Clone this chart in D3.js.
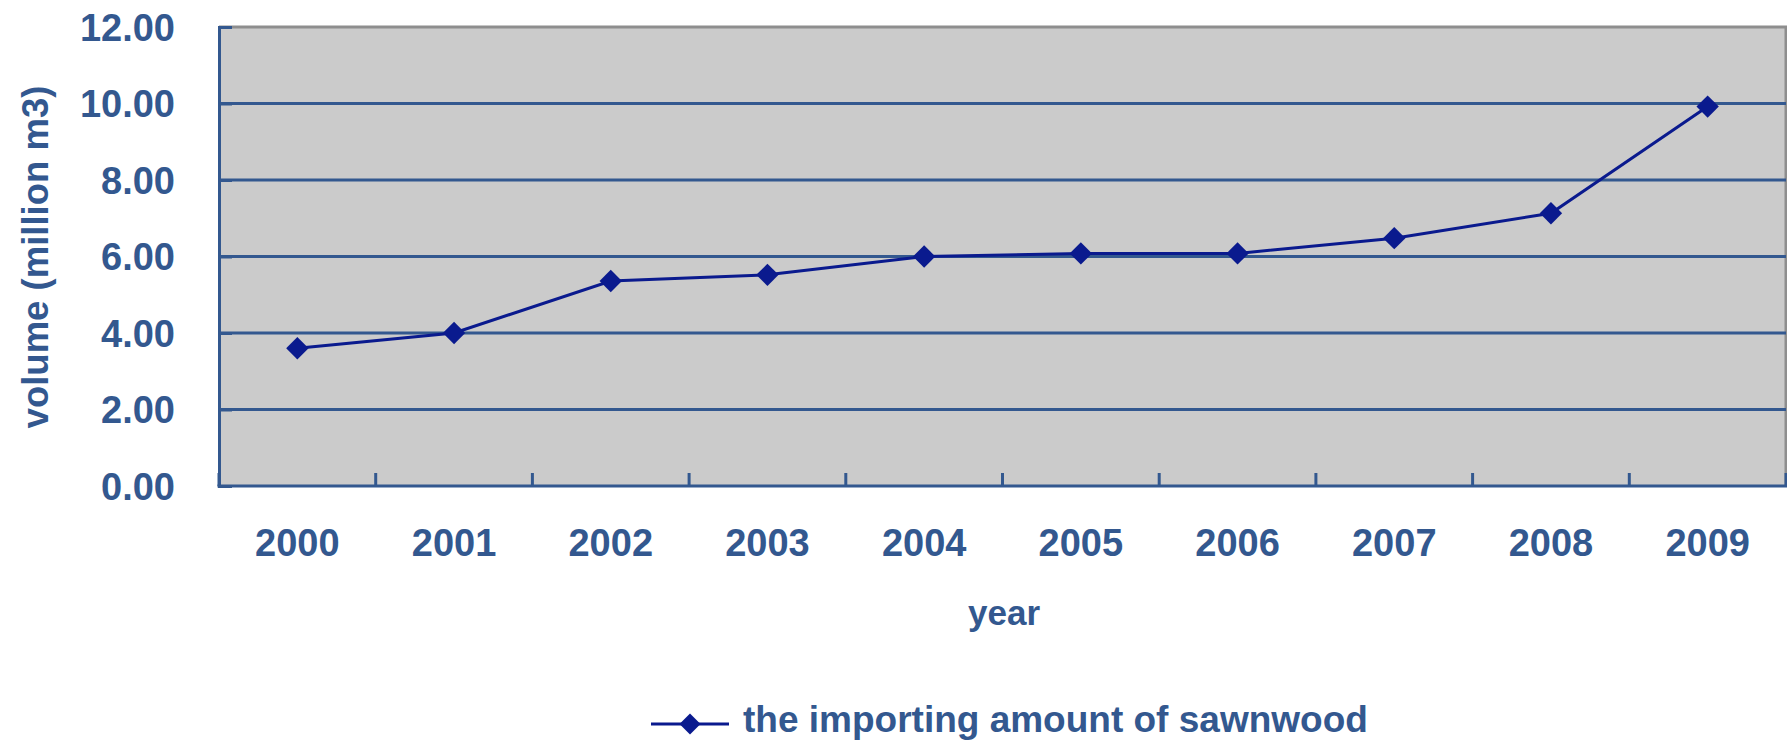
<!DOCTYPE html>
<html>
<head>
<meta charset="utf-8">
<script src="https://cdn.jsdelivr.net/npm/d3@7"></script>
<style>
  html, body { margin: 0; padding: 0; background: #ffffff; }
  svg { display: block; }
  text { font-family: "Liberation Sans", Arial, sans-serif; font-weight: bold; fill: #33588f; }
</style>
</head>
<body>
<svg id="chart" width="1787" height="743"></svg>
<script>
// Annual sawnwood import volume, million m3
const years = ["2000", "2001", "2002", "2003", "2004", "2005", "2006", "2007", "2008", "2009"];
const volumes = [3.60, 4.00, 5.36, 5.52, 6.00, 6.08, 6.08, 6.48, 7.13, 9.92];
const yTicks = [0, 2, 4, 6, 8, 10, 12];
const seriesName = "the importing amount of sawnwood";
const xTitle = "year";
const yTitle = "volume (million m3)";

const svg = d3.select("#chart");
const plot = { left: 219, right: 1786, top: 27, bottom: 486 };
const axisBlue = "#33588f";
const lineBlue = "#0a1a8e";
const fontStack = "'Liberation Sans', Arial, sans-serif";

const x = d3.scaleBand().domain(years).range([plot.left, plot.right]).padding(0);
const y = d3.scaleLinear().domain([0, 12]).range([plot.bottom, plot.top]);

// plot area background
svg.append("rect")
  .attr("x", plot.left).attr("y", plot.top)
  .attr("width", plot.right - plot.left).attr("height", plot.bottom - plot.top)
  .attr("fill", "#cbcbcb");

// top and right frame
svg.append("path")
  .attr("d", `M${plot.left},${plot.top}H${plot.right}V${plot.bottom}`)
  .attr("fill", "none").attr("stroke", "#8e8e8e").attr("stroke-width", 3);

// horizontal gridlines
svg.append("g").selectAll("line")
  .data(yTicks.filter(d => d > 0 && d < 12))
  .join("line")
  .attr("x1", plot.left).attr("x2", plot.right)
  .attr("y1", d => y(d)).attr("y2", d => y(d))
  .attr("stroke", axisBlue).attr("stroke-width", 3);

// y axis with inward ticks
const yAxis = svg.append("g")
  .attr("transform", `translate(${plot.left},0)`)
  .call(d3.axisLeft(y).tickValues(yTicks).tickSize(-13).tickPadding(44).tickFormat(d3.format(".2f")));
yAxis.select(".domain").attr("stroke", axisBlue).attr("stroke-width", 3);
yAxis.selectAll(".tick line").attr("stroke", axisBlue).attr("stroke-width", 3);
yAxis.selectAll(".tick text")
  .attr("fill", axisBlue).attr("font-size", 38).attr("dy", "0.35em")
  .style("font-family", fontStack).style("font-weight", "bold");

// x axis: labels at category centres, ticks on category boundaries
const xAxis = svg.append("g")
  .attr("transform", `translate(0,${plot.bottom})`)
  .call(d3.axisBottom(x).tickSize(0).tickPadding(43));
xAxis.select(".domain").remove();
xAxis.selectAll(".tick text")
  .attr("fill", axisBlue).attr("font-size", 38)
  .style("font-family", fontStack).style("font-weight", "bold");

const boundaries = years.map(d => x(d)).concat([x(years[years.length - 1]) + x.bandwidth()]);
svg.append("g").selectAll("line")
  .data(boundaries)
  .join("line")
  .attr("x1", d => d).attr("x2", d => d)
  .attr("y1", plot.bottom).attr("y2", plot.bottom - 13)
  .attr("stroke", axisBlue).attr("stroke-width", 3);
svg.append("line")
  .attr("x1", plot.left - 1.5).attr("x2", plot.right + 1)
  .attr("y1", plot.bottom).attr("y2", plot.bottom)
  .attr("stroke", axisBlue).attr("stroke-width", 3);

// series line
const cx = d => x(d) + x.bandwidth() / 2;
const line = d3.line().x((d, i) => cx(years[i])).y(d => y(d));
svg.append("path")
  .datum(volumes)
  .attr("d", line)
  .attr("fill", "none").attr("stroke", lineBlue).attr("stroke-width", 3);

// diamond markers
const diamond = d3.symbol().type(d3.symbolSquare).size(250);
svg.append("g").selectAll("path")
  .data(volumes)
  .join("path")
  .attr("d", diamond)
  .attr("transform", (d, i) => `translate(${cx(years[i])},${y(d)}) rotate(45)`)
  .attr("fill", lineBlue);

// axis titles
svg.append("text")
  .attr("x", 1004).attr("y", 625)
  .attr("text-anchor", "middle").attr("font-size", 35)
  .text(xTitle);

svg.append("text")
  .attr("transform", "translate(48,257) rotate(-90)")
  .attr("text-anchor", "middle").attr("font-size", 36.5)
  .text(yTitle);

// legend
const legend = svg.append("g");
legend.append("line")
  .attr("x1", 651).attr("x2", 729).attr("y1", 724).attr("y2", 724)
  .attr("stroke", lineBlue).attr("stroke-width", 3);
legend.append("path")
  .attr("d", d3.symbol().type(d3.symbolSquare).size(220))
  .attr("transform", "translate(690,724) rotate(45)")
  .attr("fill", lineBlue);
legend.append("text")
  .attr("x", 743).attr("y", 732)
  .attr("font-size", 37)
  .text(seriesName);
</script>
</body>
</html>
